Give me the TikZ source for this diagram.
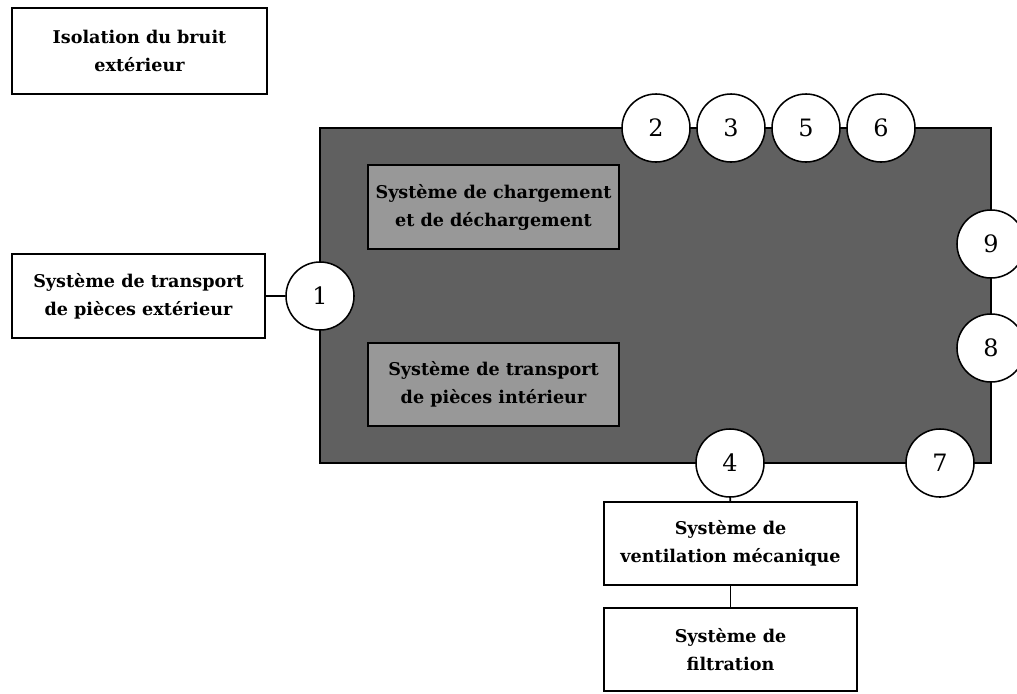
\documentclass[tikz,border=0pt]{standalone}
\usepackage{fontspec}
\setmainfont{DejaVu Serif}
\usepackage{tikz}
\usetikzlibrary{calc}

\tikzset{
  sysbox/.style={draw, line width=1.3pt, fill=white, align=center,
    font=\fontsize{12.5}{20}\selectfont\bfseries, inner sep=0pt},
  subbox/.style={sysbox, fill=subgray},
  port/.style={draw, circle, line width=1.1pt, fill=white, minimum size=1.7cm,
    inner sep=0pt, font=\fontsize{17}{20}\selectfont},
  link/.style={line width=1.2pt}
}
\definecolor{cellgray}{RGB}{96,96,96}
\definecolor{subgray}{RGB}{152,152,152}

\begin{document}
\begin{tikzpicture}[x=0.025cm, y=-0.025cm]
\useasboundingbox (0,0) rectangle (1017,693);

% cellule
\node[draw, line width=1.3pt, fill=cellgray, minimum width=16.775cm, minimum height=8.375cm] (cell) at (655.5,295.5) {};
\node[subbox, minimum width=6.275cm, minimum height=2.1cm] (charg) at (493.5,207) {Système de chargement\\et de déchargement};
\node[subbox, minimum width=6.275cm, minimum height=2.075cm] (tint) at (493.5,384.5) {Système de transport\\de pièces intérieur};

% systemes externes
\node[sysbox, minimum width=6.375cm, minimum height=2.15cm] (iso) at (139.5,51) {Isolation du bruit\\extérieur};
\node[sysbox, minimum width=6.325cm, minimum height=2.1cm] (text) at (138.5,296) {Système de transport\\de pièces extérieur};
\node[sysbox, minimum width=6.325cm, minimum height=2.075cm] (vent) at (730.5,543.5) {Système de\\ventilation mécanique};
\node[sysbox, minimum width=6.325cm, minimum height=2.075cm] (filt) at (730.5,649.5) {Système de\\filtration};

% interfaces
\node[port] (p1) at (320,296) {1};
\node[port] (p2) at (656,128) {2};
\node[port] (p3) at (731,128) {3};
\node[port] (p5) at (806,128) {5};
\node[port] (p6) at (881,128) {6};
\node[port] (p9) at (991,244) {9};
\node[port] (p8) at (991,348) {8};
\node[port] (p7) at (940,463) {7};
\node[port] (p4) at (730,463) {4};

\draw[link] (text) -- (p1);
\draw[link] (p4) -- (vent);
\draw[link] (vent) -- (filt);
\end{tikzpicture}
\end{document}
